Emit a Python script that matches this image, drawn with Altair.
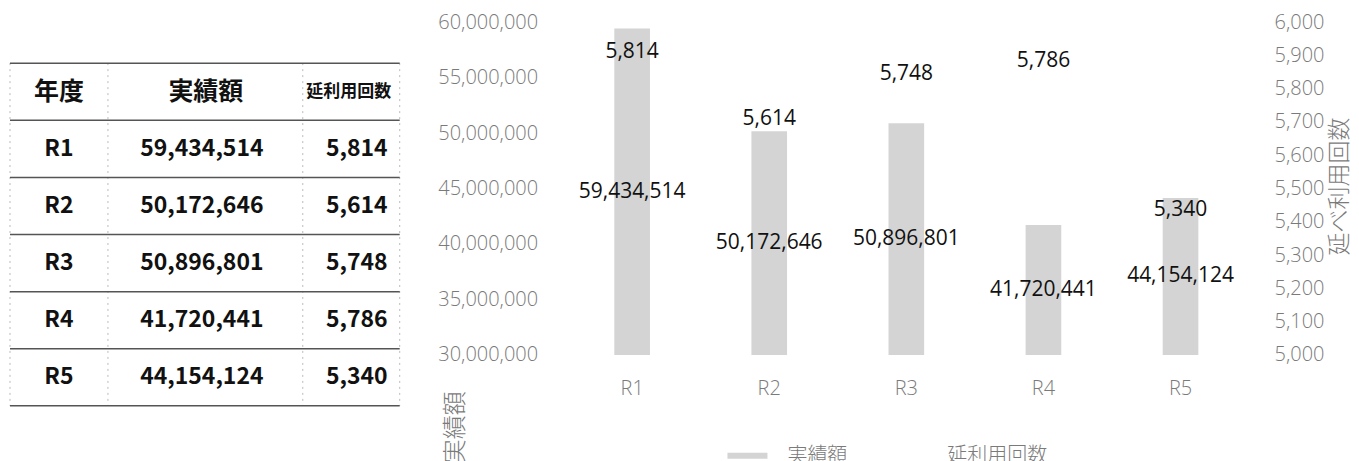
import altair as alt
import pandas as pd

# ---------------- data ----------------
years = ["R1", "R2", "R3", "R4", "R5"]
amounts = [59434514, 50172646, 50896801, 41720441, 44154124]
counts = [5814, 5614, 5748, 5786, 5340]
table_headers = ["年度", "実績額", "延利用回数"]
series_names = ["実績額", "延利用回数"]
amount_ticks = [30000000, 35000000, 40000000, 45000000, 50000000, 55000000, 60000000]
count_ticks = [5000, 5100, 5200, 5300, 5400, 5500, 5600, 5700, 5800, 5900, 6000]

# ---------------- styles ----------------
GRAY = "#7a7a7a"
BAR = "#d4d4d4"
LINE_DARK = "#555555"
LINE_LIGHT = "#bbbbbb"
JP = "Noto Sans CJK JP"
LAT = "Open Sans"

# ---------------- table ----------------
rows = ["年度"] + years
cells = []
for h in table_headers:
    cells.append({"row": "年度", "col": h, "text": h, "kind": "head"})
for y, a, c in zip(years, amounts, counts):
    cells.append({"row": y, "col": "年度", "text": y, "kind": "body"})
    cells.append({"row": y, "col": "実績額", "text": f"{a:,}", "kind": "body"})
    cells.append({"row": y, "col": "延利用回数", "text": f"{c:,}", "kind": "body"})
cells_df = pd.DataFrame(cells)
rows_df = pd.DataFrame({"row": rows})

TW, TH = 390, 384
row_scale = alt.Scale(domain=rows, range=[41, 384], paddingInner=0, paddingOuter=0)
yrow = alt.Y("row:N", scale=row_scale, axis=None)

# column centre (px) and font size per (column, kind)
col_layout = {
    ("年度", "head"): (49, 25), ("実績額", "head"): (196, 25), ("延利用回数", "head"): (339, 17),
    ("年度", "body"): (49, 23), ("実績額", "body"): (192, 23), ("延利用回数", "body"): (347, 23),
}
t_texts = []
for (col, kind), (cx, fs) in col_layout.items():
    t_texts.append(
        alt.Chart(cells_df).transform_filter(
            (alt.datum.col == col) & (alt.datum.kind == kind)
        ).mark_text(font=JP, fontWeight="bold", color="#111111", fontSize=fs).encode(
            x=alt.value(cx), y=yrow, text="text:N"
        )
    )

t_hlines = alt.Chart(rows_df).mark_rule(color=LINE_DARK, strokeWidth=1.5).encode(
    y=alt.Y("row:N", bandPosition=0, scale=row_scale, axis=None),
    x=alt.value(0), x2=alt.value(TW)
)
t_bottom = alt.Chart(rows_df).transform_filter(alt.datum.row == years[-1]).mark_rule(
    color=LINE_DARK, strokeWidth=1.5).encode(
    y=alt.Y("row:N", bandPosition=1, scale=row_scale, axis=None),
    x=alt.value(0), x2=alt.value(TW)
)
vlines = []
for xv in [0, 98, 293, TW]:
    vlines.append(
        alt.Chart(rows_df.head(1)).mark_rule(color=LINE_LIGHT, strokeWidth=1, strokeDash=[2, 4]).encode(
            x=alt.value(xv), y=alt.value(41), y2=alt.value(384)
        )
    )
table = alt.layer(*vlines, t_hlines, t_bottom, *t_texts).properties(width=TW, height=TH)

# ---------------- main chart ----------------
df = pd.DataFrame({"year": years, "amount": amounts, "count": counts})
W, H = 686, 333

xenc = alt.X("year:N", sort=years,
             scale=alt.Scale(paddingInner=0.74, paddingOuter=0.37),
             axis=alt.Axis(title=None, labelAngle=0, labelPadding=24, ticks=False, domain=False,
                           labelFontSize=20, labelColor=GRAY, labelFont=LAT, labelFontWeight=300))

yscale_amt = alt.Scale(domain=[30000000, 60000000], zero=False, nice=False)

bars = alt.Chart(df).transform_calculate(series="'実績額'").mark_bar().encode(
    x=xenc,
    y=alt.Y("amount:Q", scale=yscale_amt,
            axis=alt.Axis(values=amount_ticks, format=",d", title="実績額", ticks=False, domain=False,
                          grid=False, labelPadding=26, labelFontSize=20, labelColor=GRAY,
                          labelFont=LAT, labelFontWeight=300,
                          titleFont=JP, titleFontSize=24, titleFontWeight=300, titleColor=GRAY,
                          titleAngle=270, titleX=-108, titleY=405, titleAlign="center",
                          titleBaseline="middle")),
    y2=alt.datum(30000000),
    color=alt.Color("series:N",
                    scale=alt.Scale(domain=series_names, range=[BAR, "#ffffff"]),
                    legend=alt.Legend(title=None, orient="none", legendX=718, legendY=414,
                                      direction="horizontal",
                                      symbolType="M-1,-0.15L1,-0.15L1,0.15L-1,0.15Z",
                                      symbolSize=1600, symbolStrokeWidth=0,
                                      labelFont=JP, labelFontSize=20, labelColor=GRAY,
                                      labelFontWeight=300, labelOffset=20, columnPadding=40)),
)

bar_text = alt.Chart(df).transform_calculate(
    mid="(datum.amount + 30000000) / 2",
    lab="format(datum.amount, ',d')"
).mark_text(font=LAT, fontSize=21, color="#111111").encode(
    x=xenc,
    y=alt.Y("mid:Q", scale=yscale_amt),
    text="lab:N",
)

left = alt.layer(bars, bar_text)

count_text = alt.Chart(df).transform_calculate(
    lab="format(datum.count, ',d')"
).mark_text(font=LAT, fontSize=21, color="#111111", dy=-32).encode(
    x=xenc,
    y=alt.Y("count:Q", scale=alt.Scale(domain=[5000, 6000], zero=False, nice=False),
            axis=alt.Axis(orient="right", values=count_ticks, format=",d", title="延べ利用回数",
                          ticks=False, domain=False, grid=False, labelPadding=25,
                          labelFontSize=20, labelColor=GRAY, labelFont=LAT, labelFontWeight=300,
                          titleFont=JP, titleFontSize=23, titleFontWeight=300, titleColor=GRAY,
                          titleAngle=270, titleX=90, titleY=164, titleAlign="center",
                          titleBaseline="middle")),
    text="lab:N",
)

main = alt.layer(left, count_text).resolve_scale(y="independent").properties(width=W, height=H)

chart = alt.hconcat(table, main, spacing=164, bounds="flush").properties(
    padding={"left": 1, "top": 4, "right": 0, "bottom": 0},
    background="white",
).configure_view(strokeWidth=0, stroke="transparent")

chart.save("out.html", embed_options={"renderer": "svg", "actions": False})
